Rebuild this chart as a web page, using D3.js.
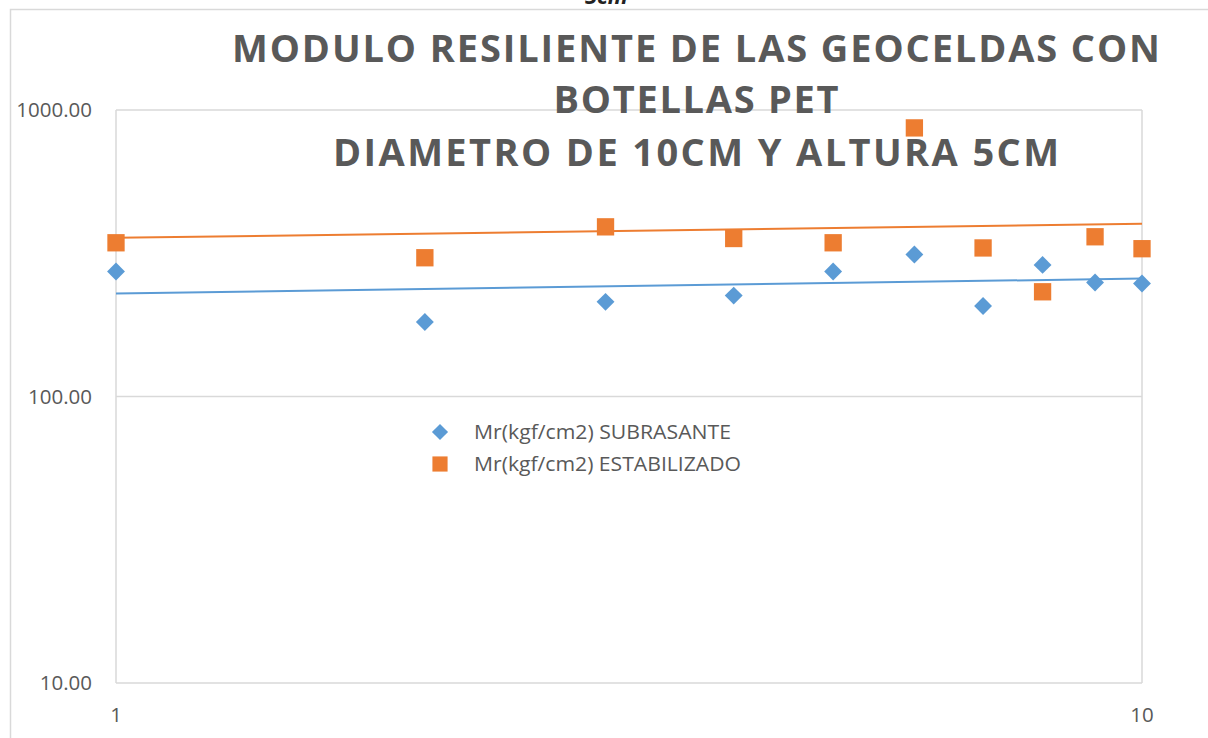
<!DOCTYPE html>
<html>
<head>
<meta charset="utf-8">
<script src="https://cdn.jsdelivr.net/npm/d3@7"></script>
<style>
  body { margin: 0; background: #fff; }
  svg { display: block; font-family: "Open Sans", sans-serif; }
</style>
</head>
<body>
<svg id="chart" width="1208" height="738"></svg>
<script>
// data
const xValues = [1, 2, 3, 4, 5, 6, 7, 8, 9, 10];
const subrasante = [273, 182, 214, 225, 273, 313, 207, 288, 250, 248];
const estabilizado = [344, 305, 391, 356, 344, 866, 330, 232, 361, 328];
// trendline values at x = 1 and x = 10
const trendX = [1, 10];
const trendSubrasante = [229, 258];
const trendEstabilizado = [358, 401];
const yTicks = [10, 100, 1000];
const xTicks = [1, 10];
const titleLines = [
  "MODULO RESILIENTE DE LAS GEOCELDAS CON",
  "BOTELLAS PET",
  "DIAMETRO DE 10CM Y ALTURA 5CM"
];
const seriesNames = ["Mr(kgf/cm2) SUBRASANTE", "Mr(kgf/cm2) ESTABILIZADO"];

const blue = "#5B9BD5", orange = "#ED7D31", grid = "#d9d9d9", textCol = "#595959";

const svg = d3.select("#chart");

// outer chart border (clipped by the window on the right/bottom)
svg.append("path")
  .attr("d", "M10.5,738 V9.5 H1208")
  .attr("fill", "none")
  .attr("stroke", grid)
  .attr("stroke-width", 1.5);

// text above the chart, cut off by the top edge as in the reference
svg.append("text")
  .attr("x", 585).attr("y", 4)
  .attr("font-size", 22)
  .attr("font-weight", "bold")
  .attr("font-style", "italic")
  .attr("fill", "#222")
  .text("5cm");

const x = d3.scaleLog().domain([1, 10]).range([116, 1142]);
const y = d3.scaleLog().domain([10, 1000]).range([683, 110]);

// gridlines
svg.append("g")
  .selectAll("line")
  .data(yTicks)
  .enter().append("line")
  .attr("x1", x(1)).attr("x2", x(10))
  .attr("y1", d => y(d)).attr("y2", d => y(d))
  .attr("stroke", grid).attr("stroke-width", 1.5);

// plot frame sides
svg.append("g")
  .selectAll("line")
  .data(xTicks)
  .enter().append("line")
  .attr("x1", d => x(d)).attr("x2", d => x(d))
  .attr("y1", y(1000)).attr("y2", y(10))
  .attr("stroke", grid).attr("stroke-width", 1.5);

// y tick labels
svg.append("g")
  .selectAll("text")
  .data(yTicks)
  .enter().append("text")
  .attr("x", 92)
  .attr("y", d => y(d) + 7)
  .attr("text-anchor", "end")
  .attr("font-size", 20.5)
  .attr("fill", textCol)
  .text(d => d3.format(".2f")(d));

// x tick labels
svg.append("g")
  .selectAll("text")
  .data(xTicks)
  .enter().append("text")
  .attr("x", d => x(d))
  .attr("y", 722)
  .attr("text-anchor", "middle")
  .attr("font-size", 20.5)
  .attr("fill", textCol)
  .text(d => d);

// trendlines
const trendLine = d3.line().x(d => x(d[0])).y(d => y(d[1]));
[[trendSubrasante, blue], [trendEstabilizado, orange]].forEach(([vals, col]) => {
  svg.append("path")
    .attr("d", trendLine(trendX.map((v, i) => [v, vals[i]])))
    .attr("fill", "none")
    .attr("stroke", col)
    .attr("stroke-width", 2);
});

// markers
const diamond = d3.symbol().type(d3.symbolSquare).size(160);
svg.append("g")
  .selectAll("path")
  .data(xValues)
  .enter().append("path")
  .attr("d", diamond())
  .attr("transform", (d, i) => `translate(${x(d)},${y(subrasante[i])}) rotate(45)`)
  .attr("fill", blue);

const square = d3.symbol().type(d3.symbolSquare).size(300);
svg.append("g")
  .selectAll("path")
  .data(xValues)
  .enter().append("path")
  .attr("d", square())
  .attr("transform", (d, i) => `translate(${x(d)},${y(estabilizado[i])})`)
  .attr("fill", orange);

// title
const titleY = [62, 113, 166];
const titleW = [928, 285, 726];
svg.append("g")
  .selectAll("text")
  .data(titleLines)
  .enter().append("text")
  .attr("x", 696)
  .attr("y", (d, i) => titleY[i])
  .attr("text-anchor", "middle")
  .attr("font-size", 38)
  .attr("font-weight", "bold")
  .attr("fill", textCol)
  .attr("textLength", (d, i) => titleW[i])
  .attr("lengthAdjust", "spacing")
  .text(d => d);

// legend
const legend = svg.append("g");
legend.append("path")
  .attr("d", d3.symbol().type(d3.symbolSquare).size(130)())
  .attr("transform", "translate(440,432) rotate(45)")
  .attr("fill", blue);
legend.append("path")
  .attr("d", d3.symbol().type(d3.symbolSquare).size(230)())
  .attr("transform", "translate(440,464)")
  .attr("fill", orange);
legend.selectAll("text")
  .data(seriesNames)
  .enter().append("text")
  .attr("x", 474)
  .attr("y", (d, i) => 439 + i * 32)
  .attr("font-size", 20)
  .attr("textLength", (d, i) => [257, 267][i])
  .attr("lengthAdjust", "spacingAndGlyphs")
  .attr("fill", textCol)
  .text(d => d);
</script>
</body>
</html>
